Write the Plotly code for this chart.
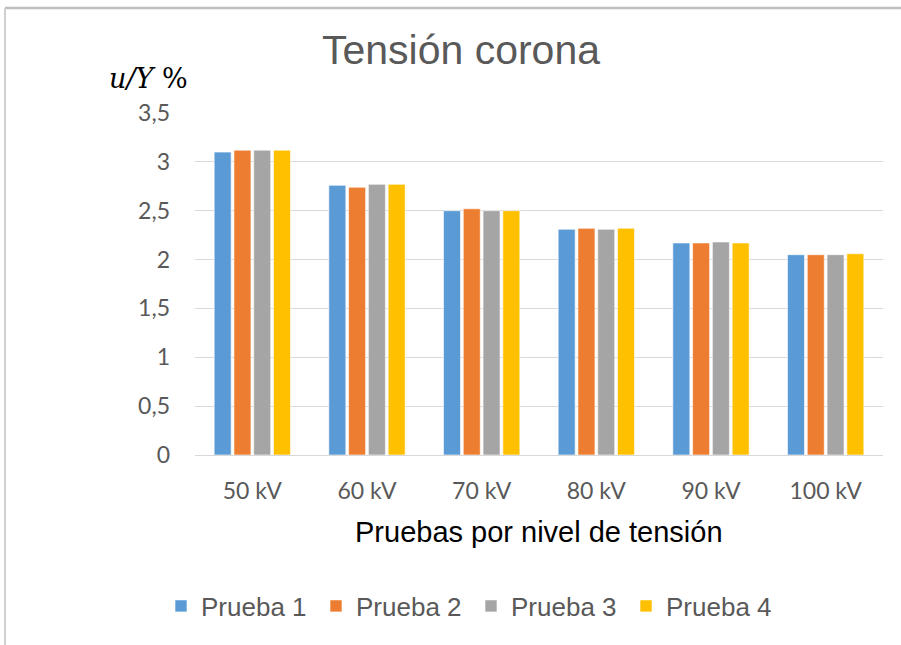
import plotly.graph_objects as go

categories = ["50 kV", "60 kV", "70 kV", "80 kV", "90 kV", "100 kV"]
prueba1 = [3.10, 2.76, 2.50, 2.31, 2.17, 2.05]
prueba2 = [3.12, 2.74, 2.52, 2.32, 2.17, 2.05]
prueba3 = [3.12, 2.77, 2.50, 2.31, 2.18, 2.05]
prueba4 = [3.12, 2.77, 2.50, 2.32, 2.17, 2.06]
series_names = ["Prueba 1", "Prueba 2", "Prueba 3", "Prueba 4"]
colors = ["#5B9BD5", "#ED7D31", "#A5A5A5", "#FFC000"]
y_tickvals = [0, 0.5, 1, 1.5, 2, 2.5, 3, 3.5]
y_ticktext = ["0", "0,5", "1", "1,5", "2", "2,5", "3", "3,5"]

fig = go.Figure()
for name, vals, c in zip(series_names, [prueba1, prueba2, prueba3, prueba4], colors):
    fig.add_trace(go.Bar(x=categories, y=vals, name=name,
                         marker=dict(color=c, line=dict(color="rgba(255,255,255,0.6)", width=1))))

L, R, T, B = 195, 18, 113, 190
W, H = 901, 645
pw, ph = W - L - R, H - T - B

def px(x):
    return (x - L) / pw

def py(y):
    return (H - B - y) / ph

fig.update_layout(
    width=W, height=H,
    margin=dict(l=L, r=R, t=T, b=B),
    paper_bgcolor="white", plot_bgcolor="white",
    barmode="group", bargap=0.31, bargroupgap=0.14,
    font=dict(family="Lato", color="#595959"),
    title=dict(text="Tensión corona", x=px(461), xref="paper", xanchor="center",
               y=1 - 50 / H, yanchor="middle",
               font=dict(family="Liberation Sans", size=41, color="#595959")),
    showlegend=True,
    legend=dict(orientation="h", x=px(471), xanchor="center", y=py(606), yanchor="middle",
                font=dict(family="Liberation Sans", size=26, color="#595959"),
                traceorder="normal", entrywidth=110, entrywidthmode="pixels"),
    xaxis=dict(showgrid=False, showline=True, linecolor="#D9D9D9", linewidth=1,
               ticks="", tickfont=dict(size=23, color="#595959"), ticklabelstandoff=15),
    yaxis=dict(range=[0, 3.5], tickvals=y_tickvals, ticktext=y_ticktext,
               showgrid=True, gridcolor="#D9D9D9", gridwidth=1, zeroline=False,
               ticks="", tickfont=dict(size=23, color="#595959"), ticklabelstandoff=24),
    annotations=[
        dict(text="<i>u/Y</i> %", x=px(148), y=py(78), xref="paper", yref="paper",
             xanchor="center", yanchor="middle", showarrow=False,
             font=dict(family="DejaVu Serif", size=27, color="#000000")),
        dict(text="Pruebas por nivel de tensión", x=px(539), y=py(532), xref="paper", yref="paper",
             xanchor="center", yanchor="middle", showarrow=False,
             font=dict(family="Liberation Sans", size=29, color="#000000")),
    ],
    shapes=[
        dict(type="line", xref="paper", yref="paper", x0=px(5), x1=px(901), y0=py(8), y1=py(8),
             line=dict(color="#BFBFBF", width=2.5), layer="above"),
        dict(type="line", xref="paper", yref="paper", x0=px(5), x1=px(5), y0=py(8), y1=py(645),
             line=dict(color="#D0D0D0", width=2), layer="above"),
    ],
)

fig.write_html("out.html", config={"displayModeBar": False},
               post_script="document.body.style.margin='0';document.body.style.overflow='hidden';")
